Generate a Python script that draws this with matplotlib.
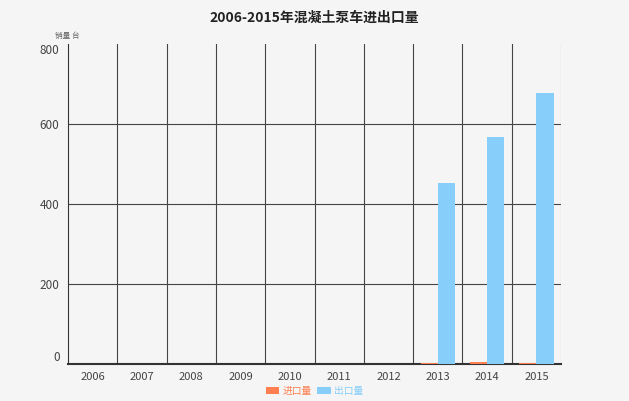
import numpy as np
import matplotlib.pyplot as plt

plt.rcParams['font.family'] = ['Noto Sans CJK SC', 'DejaVu Sans']

# 数据
years = ['2006', '2007', '2008', '2009', '2010', '2011', '2012', '2013', '2014', '2015']
import_qty = [0, 0, 0, 0, 0, 0, 0, 4, 5, 4]
export_qty = [0, 0, 0, 0, 0, 0, 0, 452, 567, 677]

fig = plt.figure(figsize=(6.29, 4.01), dpi=100)
fig.patch.set_facecolor('#f5f5f5')
ax = fig.add_axes([0.108, 0.092, 0.784, 0.798])
ax.set_facecolor('#f5f5f5')

x = np.arange(len(years))
w = 0.35
ax.bar(x - w / 2, import_qty, w, color='#ff7f50', label='进口量', zorder=3)
ax.bar(x + w / 2, export_qty, w, color='#87cefa', label='出口量', zorder=3)

ax.set_xlim(-0.5, len(years) - 0.5)
ax.set_ylim(0, 800)
ax.set_xticks(x)
ax.set_xticklabels(years, fontsize=8, color='#444444')
ax.set_yticks([0, 200, 400, 600, 800])
ax.set_yticklabels(['0', '200', '400', '600', '800'], fontsize=8.5, color='#444444')
ax.tick_params(length=0, pad=6)
ylabs = ax.get_yticklabels()
ylabs[0].set_va('bottom')
ylabs[-1].set_va('top')

# 网格线在类别边界
for b in np.arange(0.5, len(years) - 0.5, 1):
    ax.axvline(b, color='#444444', lw=0.8, zorder=1)
for yv in [200, 400, 600]:
    ax.axhline(yv, color='#444444', lw=0.8, zorder=1)

for s in ['top', 'right']:
    ax.spines[s].set_visible(False)
ax.axvline(len(years) - 0.5, color='#aaaaaa', lw=0.8, zorder=1)
ax.spines['left'].set_color('#333333')
ax.spines['bottom'].set_color('#333333')
ax.spines['bottom'].set_linewidth(1.5)

fig.text(0.5, 0.955, '2006-2015年混凝土泵车进出口量', ha='center', va='center',
         fontsize=10, fontweight='bold', color='#222222')
fig.text(0.087, 0.91, '销量 台', fontsize=5.5, color='#666666', va='center')

leg = fig.legend(loc='lower center', bbox_to_anchor=(0.5, -0.01), ncol=2, frameon=False,
                 fontsize=7, handlelength=1.4, handleheight=0.7, columnspacing=0.6,
                 handletextpad=0.3)
for t, c in zip(leg.get_texts(), ['#ff7f50', '#87cefa']):
    t.set_color(c)

fig.savefig('out.png', dpi=100, facecolor=fig.get_facecolor())
